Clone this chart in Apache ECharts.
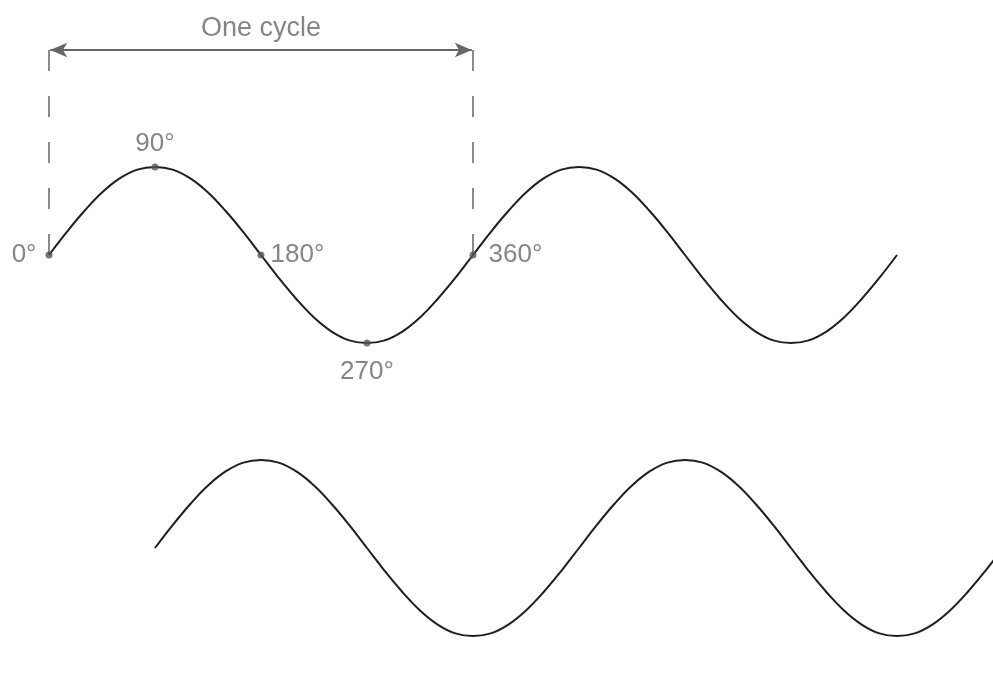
<!DOCTYPE html>
<html>
<head>
<meta charset="utf-8">
<script src="https://cdn.jsdelivr.net/npm/echarts@6/dist/echarts.min.js"></script>
<style>
  html, body { margin: 0; padding: 0; background: #fff; }
  #chart { width: 993px; height: 683px; }
</style>
</head>
<body>
<div id="chart"></div>
<script>
// angles in degrees (amplitude 1 = one peak)
var topAngles = [0, 15, 30, 45, 60, 75, 90, 105, 120, 135, 150, 165, 180, 195, 210, 225, 240, 255, 270, 285, 300, 315, 330, 345, 360,
  375, 390, 405, 420, 435, 450, 465, 480, 495, 510, 525, 540, 555, 570, 585, 600, 615, 630, 645, 660, 675, 690, 705, 720];
var topValues = [0, 0.26, 0.5, 0.71, 0.87, 0.97, 1, 0.97, 0.87, 0.71, 0.5, 0.26, 0, -0.26, -0.5, -0.71, -0.87, -0.97, -1, -0.97, -0.87, -0.71, -0.5, -0.26, 0,
  0.26, 0.5, 0.71, 0.87, 0.97, 1, 0.97, 0.87, 0.71, 0.5, 0.26, 0, -0.26, -0.5, -0.71, -0.87, -0.97, -1, -0.97, -0.87, -0.71, -0.5, -0.26, 0];

var bottomAngles = [90, 105, 120, 135, 150, 165, 180, 195, 210, 225, 240, 255, 270, 285, 300, 315, 330, 345, 360, 375, 390, 405, 420, 435, 450,
  465, 480, 495, 510, 525, 540, 555, 570, 585, 600, 615, 630, 645, 660, 675, 690, 705, 720, 735, 750, 765, 780, 795, 810];
var bottomValues = [0, 0.26, 0.5, 0.71, 0.87, 0.97, 1, 0.97, 0.87, 0.71, 0.5, 0.26, 0, -0.26, -0.5, -0.71, -0.87, -0.97, -1, -0.97, -0.87, -0.71, -0.5, -0.26, 0,
  0.26, 0.5, 0.71, 0.87, 0.97, 1, 0.97, 0.87, 0.71, 0.5, 0.26, 0, -0.26, -0.5, -0.71, -0.87, -0.97, -1, -0.97, -0.87, -0.71, -0.5, -0.26, 0];

var markAngles = [0, 90, 180, 270, 360];
var markValues = [0, 1, 0, -1, 0];
var markLabels = ['0°', '90°', '180°', '270°', '360°'];
var markLabelPos = ['left', 'top', 'right', 'bottom', 'right'];

var cycleStart = 0, cycleEnd = 360;
var cycleTitle = 'One cycle';

function pairs(xs, ys) {
  var out = [];
  for (var i = 0; i < xs.length; i++) out.push([xs[i], ys[i]]);
  return out;
}

var gray = '#666';
var font = 'Liberation Sans, Arial, sans-serif';

var markData = [];
for (var i = 0; i < markAngles.length; i++) {
  var pos = markLabelPos[i];
  var dist = {left: 9, top: 7, right: 6, bottom: 12}[pos];
  if (i === 4) dist = 12;
  markData.push({
    value: [markAngles[i], markValues[i]],
    label: {show: true, formatter: markLabels[i], position: pos, distance: dist}
  });
}

var myChart = echarts.init(document.getElementById('chart'));
var option = {
  backgroundColor: '#fff',
  animation: false,
  grid: [
    {left: 49, right: 0, top: 0, height: 510},
    {left: 49, right: 0, top: 413, height: 270}
  ],
  xAxis: [
    {gridIndex: 0, type: 'value', min: 0, max: 801.5, show: false},
    {gridIndex: 1, type: 'value', min: 0, max: 801.5, show: false}
  ],
  yAxis: [
    {gridIndex: 0, type: 'value', min: -2.898, max: 2.898, show: false},
    {gridIndex: 1, type: 'value', min: -1.534, max: 1.534, show: false}
  ],
  series: [
    {
      // dashed markers of one cycle, with the double arrow
      type: 'line',
      xAxisIndex: 0, yAxisIndex: 0,
      data: [[cycleStart, 0], [cycleStart, 2.36]],
      symbol: 'none',
      lineStyle: {color: '#8a8a8a', width: 2, type: [21, 25]},
      markLine: {
        silent: true,
        symbol: ['arrow', 'arrow'],
        symbolSize: [11, 17],
        lineStyle: {color: gray, width: 2, type: 'solid'},
        label: {show: false},
        data: [[{coord: [cycleStart + 1, 2.33]}, {coord: [cycleEnd - 1, 2.33]}]]
      },
      z: 1
    },
    {
      type: 'line',
      xAxisIndex: 0, yAxisIndex: 0,
      data: [[cycleEnd, 0], [cycleEnd, 2.36]],
      symbol: 'none',
      lineStyle: {color: '#8a8a8a', width: 2, type: [21, 25]},
      z: 1
    },
    {
      type: 'line',
      xAxisIndex: 0, yAxisIndex: 0,
      data: pairs(topAngles, topValues),
      smooth: 0.4,
      symbol: 'none',
      lineStyle: {color: '#1e1e1e', width: 2},
      z: 2
    },
    {
      type: 'line',
      xAxisIndex: 1, yAxisIndex: 1,
      data: pairs(bottomAngles, bottomValues),
      smooth: 0.4,
      symbol: 'none',
      lineStyle: {color: '#1e1e1e', width: 2},
      z: 2
    },
    {
      type: 'scatter',
      xAxisIndex: 0, yAxisIndex: 0,
      data: markData,
      symbolSize: 7,
      itemStyle: {color: '#555'},
      label: {color: gray, fontSize: 26, fontFamily: font},
      z: 3
    },
    {
      type: 'scatter',
      xAxisIndex: 0, yAxisIndex: 0,
      data: [[(cycleStart + cycleEnd) / 2, 2.57]],
      symbolSize: 0,
      label: {show: true, position: 'inside', formatter: cycleTitle, color: gray, fontSize: 27, fontFamily: font},
      z: 3
    }
  ]
};
myChart.setOption(option);
</script>
</body>
</html>
